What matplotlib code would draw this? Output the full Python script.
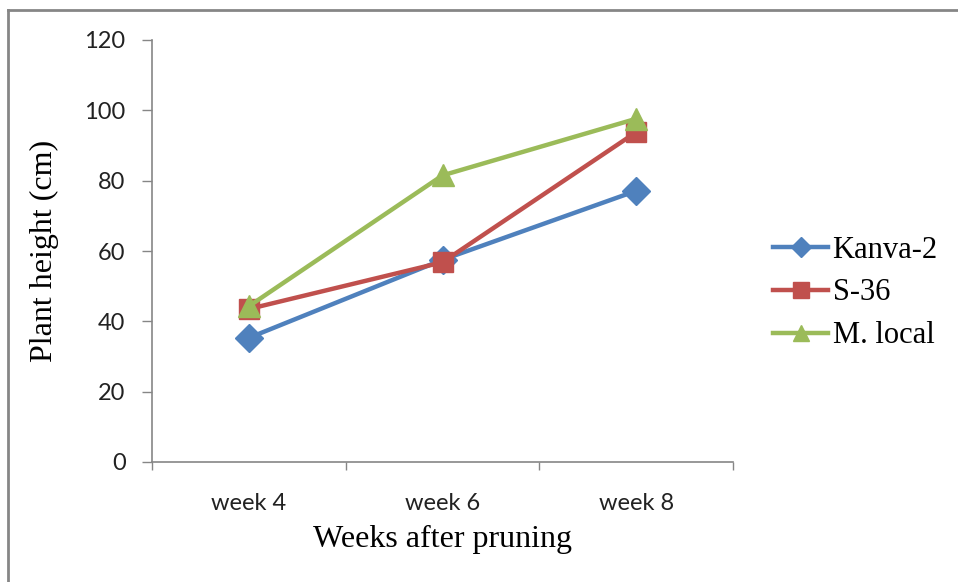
import matplotlib
matplotlib.use("Agg")
import matplotlib.pyplot as plt
from matplotlib.lines import Line2D

# ── data ──────────────────────────────────────────────
weeks = ["week 4", "week 6", "week 8"]
kanva2 = [35.3, 57.5, 77.1]
s36 = [43.5, 56.8, 93.8]
m_local = [44.3, 81.5, 97.6]

series = [
    ("Kanva-2", kanva2, "#4F81BD", "D", 14),
    ("S-36", s36, "#C0504D", "s", 15),
    ("M. local", m_local, "#9BBB59", "^", 16),
]

fig = plt.figure(figsize=(9.58, 5.82), dpi=100)
ax = fig.add_axes([152 / 958, 1 - 462 / 582, (733 - 152) / 958, (462 - 40) / 582])

x = list(range(len(weeks)))
for name, vals, col, mk, ms in series:
    ax.plot(x, vals, color=col, lw=3.2, marker=mk, markersize=ms,
            markerfacecolor=col, markeredgecolor=col, label=name)

ax.set_xlim(-0.5, len(weeks) - 0.5)
ax.set_ylim(0, 120)
ax.set_yticks(range(0, 121, 20))
ax.set_xticks([i - 0.5 for i in range(len(weeks) + 1)])
ax.set_xticklabels([])
ax.set_xticks(x, minor=True)
ax.set_xticklabels(weeks, minor=True)

tick_font = "Lato"
for lbl in ax.get_yticklabels() + ax.get_xticklabels(minor=True):
    lbl.set_fontfamily(tick_font)
    lbl.set_fontsize(17)
    lbl.set_color("#222222")

ax.tick_params(axis="y", direction="out", length=7, width=1, color="#868686", pad=12)
ax.tick_params(axis="x", which="major", direction="out", length=6, width=1, color="#868686")
ax.tick_params(axis="x", which="minor", length=0, pad=22)

for side in ["top", "right"]:
    ax.spines[side].set_visible(False)
for side in ["left", "bottom"]:
    ax.spines[side].set_color("#868686")
    ax.spines[side].set_linewidth(1.2)

ax.set_ylabel("Plant height (cm)", fontfamily="Liberation Serif", fontsize=23, labelpad=18)
ax.set_xlabel("Weeks after pruning", fontfamily="Liberation Serif", fontsize=23, labelpad=8)

leg = fig.legend(*ax.get_legend_handles_labels(), loc="center left",
                 bbox_to_anchor=(773 / 958, 1 - 293 / 582), frameon=False,
                 prop={"family": "Liberation Serif", "size": 22},
                 handlelength=1.8, handletextpad=0.15, labelspacing=0.45, markerscale=0.75,
                 borderpad=0, borderaxespad=0)

# outer chart border (only top and left edges are visible)
fig.add_artist(Line2D([8 / 958, 8 / 958], [0, 1 - 10 / 582], transform=fig.transFigure,
                      color="#868686", lw=2))
fig.add_artist(Line2D([8 / 958, 1], [1 - 10 / 582, 1 - 10 / 582], transform=fig.transFigure,
                      color="#868686", lw=2))

fig.savefig("out.png", dpi=100)
